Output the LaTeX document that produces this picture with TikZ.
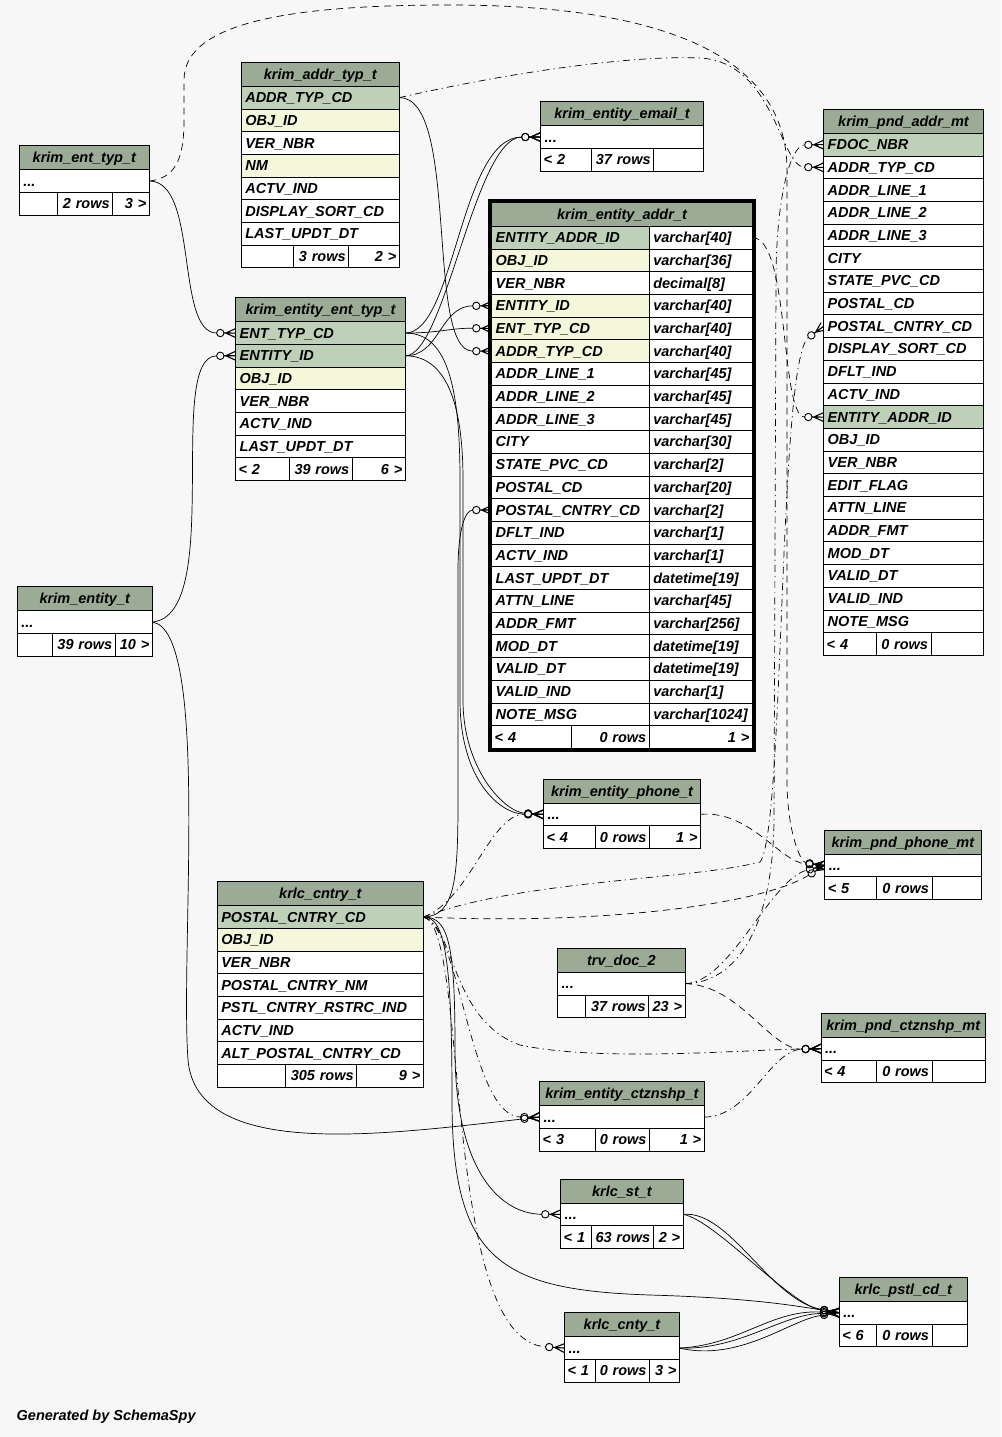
\documentclass[tikz,border=0pt]{standalone}
\usepackage{fontspec}
\setmainfont{Liberation Sans}
\usetikzlibrary{positioning,fit,backgrounds,arrows.meta}
\definecolor{hdcol}{HTML}{9BAB96}
\definecolor{pkcol}{HTML}{BED1B8}
\definecolor{ixcol}{HTML}{F4F7DA}
\definecolor{bgcol}{HTML}{F7F7F7}
\newcommand{\tblfont}{\fontsize{14.5pt}{17pt}\selectfont\bfseries\itshape}
% crow's foot with open circle (zero or many)
\pgfdeclarearrow{
  name=crow,
  setup code={
    \pgfarrowssettipend{0pt}
    \pgfarrowssetlineend{-19pt}
    \pgfarrowssetbackend{-19.5pt}
    \pgfarrowshullpoint{0pt}{4.5pt}
    \pgfarrowshullpoint{0pt}{-4.5pt}
    \pgfarrowshullpoint{-19.5pt}{4pt}
    \pgfarrowshullpoint{-19.5pt}{-4pt}
  },
  drawing code={
    \pgfsetdash{}{0pt}
    \pgfsetlinewidth{1.1pt}
    \pgfpathmoveto{\pgfqpoint{-11.8pt}{0pt}}
    \pgfpathlineto{\pgfqpoint{0pt}{0pt}}
    \pgfpathmoveto{\pgfqpoint{0pt}{4.5pt}}
    \pgfpathlineto{\pgfqpoint{-10pt}{0pt}}
    \pgfpathlineto{\pgfqpoint{0pt}{-4.5pt}}
    \pgfusepathqstroke
    \pgfsetlinewidth{0.9pt}
    \pgfpathcircle{\pgfqpoint{-15.4pt}{0pt}}{3.7pt}
    \pgfusepathqstroke
  }
}

\begin{document}
\begin{tikzpicture}[x=1pt,y=-1pt,
 tbl/.style={draw,line width=0.9pt,outer sep=0pt,inner xsep=4pt,inner ysep=0pt,minimum height=22.7pt,
   text height=13pt,text depth=3pt,anchor=north west,align=left,font=\tblfont},
 hd/.style={tbl,fill=hdcol,align=center,minimum height=24pt},
 cl/.style={tbl,fill=white},
 ft/.style={tbl,fill=white,inner xsep=3pt,align=right},
 fk/.style={-{crow},line width=0.7pt},
 imp/.style={fk,dash pattern=on 7pt off 5pt},
 imp2/.style={fk,dash pattern=on 7pt off 4pt on 1.2pt off 4pt}]
\useasboundingbox (0,0) rectangle (1001,1437);

% krim_ent_typ_t
\node[hd,text width=122pt] (enttyp-0) at (19.3,145.7) {krim\_ent\_typ\_t};
\node[cl,text width=122pt,below=0pt of enttyp-0.south west,anchor=north west] (enttyp-1) {...};
\node[ft,text width=32pt,below=0pt of enttyp-1.south west,anchor=north west] (enttyp-f1) {};
\node[ft,text width=49.4pt,right=0pt of enttyp-f1] (enttyp-f2) {2 rows};
\node[ft,text width=30.6pt,right=0pt of enttyp-f2] (enttyp-f3) {3 >};

% krim_addr_typ_t
\node[hd,text width=150pt] (addrtyp-0) at (241.3,62.3) {krim\_addr\_typ\_t};
\foreach \c/\f [count=\i,remember=\i as \j (initially 0)] in {ADDR\_TYP\_CD/pkcol,OBJ\_ID/ixcol,VER\_NBR/white,NM/ixcol,ACTV\_IND/white,DISPLAY\_SORT\_CD/white,LAST\_UPDT\_DT/white}
  \node[cl,fill=\f,text width=150pt,below=0pt of addrtyp-\j.south west,anchor=north west] (addrtyp-\i) {\c};
\node[ft,text width=46.4pt,below=0pt of addrtyp-7.south west,anchor=north west] (addrtyp-f1) {};
\node[ft,text width=49pt,right=0pt of addrtyp-f1] (addrtyp-f2) {3 rows};
\node[ft,text width=44.6pt,right=0pt of addrtyp-f2] (addrtyp-f3) {2 >};

% krim_entity_email_t
\node[hd,text width=154.6pt] (email-0) at (540.7,101.7) {krim\_entity\_email\_t};
\node[cl,text width=154.6pt,below=0pt of email-0.south west,anchor=north west] (email-1) {...};
\node[ft,align=left,text width=45pt,below=0pt of email-1.south west,anchor=north west] (email-f1) {< 2};
\node[ft,text width=56pt,right=0pt of email-f1] (email-f2) {37 rows};
\node[ft,text width=43.6pt,right=0pt of email-f2] (email-f3) {};

% krim_entity_addr_t
\node[hd,text width=252.6pt] (eaddr-0) at (491.7,202.3) {krim\_entity\_addr\_t};
\foreach \c/\f/\t [count=\i,remember=\i as \j (initially 0)] in {ENTITY\_ADDR\_ID/pkcol/varchar[40],OBJ\_ID/ixcol/varchar[36],VER\_NBR/white/decimal[8],ENTITY\_ID/ixcol/varchar[40],ENT\_TYP\_CD/ixcol/varchar[40],ADDR\_TYP\_CD/ixcol/varchar[40],ADDR\_LINE\_1/white/varchar[45],ADDR\_LINE\_2/white/varchar[45],ADDR\_LINE\_3/white/varchar[45],CITY/white/varchar[30],STATE\_PVC\_CD/white/varchar[2],POSTAL\_CD/white/varchar[20],POSTAL\_CNTRY\_CD/white/varchar[2],DFLT\_IND/white/varchar[1],ACTV\_IND/white/varchar[1],LAST\_UPDT\_DT/white/datetime[19],ATTN\_LINE/white/varchar[45],ADDR\_FMT/white/varchar[256],MOD\_DT/white/datetime[19],VALID\_DT/white/datetime[19],VALID\_IND/white/varchar[1],NOTE\_MSG/white/varchar[1024]}{
  \node[cl,fill=\f,text width=149.6pt,below=0pt of eaddr-\j.south west,anchor=north west] (eaddr-\i) {\c};
  \node[cl,text width=95pt,right=0pt of eaddr-\i] (eaddr-t\i) {\t};
}
\node[ft,align=left,text width=73.3pt,below=0pt of eaddr-22.south west,anchor=north west] (eaddr-f1) {< 4};
\node[ft,text width=72.3pt,right=0pt of eaddr-f1] (eaddr-f2) {0 rows};
\node[ft,text width=97pt,right=0pt of eaddr-f2] (eaddr-f3) {1 >};
\node[draw,line width=3.4pt,inner sep=1.7pt,fit=(eaddr-0)(eaddr-f3)] (eaddr-frame) {};

% krim_pnd_addr_mt
\node[hd,text width=151.6pt] (paddr-0) at (823.7,109.3) {krim\_pnd\_addr\_mt};
\foreach \c/\f [count=\i,remember=\i as \j (initially 0)] in {FDOC\_NBR/pkcol,ADDR\_TYP\_CD/white,ADDR\_LINE\_1/white,ADDR\_LINE\_2/white,ADDR\_LINE\_3/white,CITY/white,STATE\_PVC\_CD/white,POSTAL\_CD/white,POSTAL\_CNTRY\_CD/white,DISPLAY\_SORT\_CD/white,DFLT\_IND/white,ACTV\_IND/white,ENTITY\_ADDR\_ID/pkcol,OBJ\_ID/white,VER\_NBR/white,EDIT\_FLAG/white,ATTN\_LINE/white,ADDR\_FMT/white,MOD\_DT/white,VALID\_DT/white,VALID\_IND/white,NOTE\_MSG/white}
  \node[cl,fill=\f,text width=151.6pt,below=0pt of paddr-\j.south west,anchor=north west] (paddr-\i) {\c};
\node[ft,align=left,text width=46.3pt,below=0pt of paddr-22.south west,anchor=north west] (paddr-f1) {< 4};
\node[ft,text width=49pt,right=0pt of paddr-f1] (paddr-f2) {0 rows};
\node[ft,text width=46.3pt,right=0pt of paddr-f2] (paddr-f3) {};

% krim_entity_ent_typ_t
\node[hd,text width=161.6pt] (eet-0) at (235.7,297.7) {krim\_entity\_ent\_typ\_t};
\foreach \c/\f [count=\i,remember=\i as \j (initially 0)] in {ENT\_TYP\_CD/pkcol,ENTITY\_ID/pkcol,OBJ\_ID/ixcol,VER\_NBR/white,ACTV\_IND/white,LAST\_UPDT\_DT/white}
  \node[cl,fill=\f,text width=161.6pt,below=0pt of eet-\j.south west,anchor=north west] (eet-\i) {\c};
\node[ft,align=left,text width=47.6pt,below=0pt of eet-6.south west,anchor=north west] (eet-f1) {< 2};
\node[ft,text width=57pt,right=0pt of eet-f1] (eet-f2) {39 rows};
\node[ft,text width=47pt,right=0pt of eet-f2] (eet-f3) {6 >};

% krim_entity_t
\node[hd,text width=127pt] (ent-0) at (17.3,586.7) {krim\_entity\_t};
\node[cl,text width=127pt,below=0pt of ent-0.south west,anchor=north west] (ent-1) {...};
\node[ft,text width=29.4pt,below=0pt of ent-1.south west,anchor=north west] (ent-f1) {};
\node[ft,text width=56.6pt,right=0pt of ent-f1] (ent-f2) {39 rows};
\node[ft,text width=31pt,right=0pt of ent-f2] (ent-f3) {10 >};

% krim_entity_phone_t
\node[hd,text width=149pt] (phone-0) at (543.5,779) {krim\_entity\_phone\_t};
\node[cl,text width=149pt,below=0pt of phone-0.south west,anchor=north west] (phone-1) {...};
\node[ft,align=left,text width=46.1pt,below=0pt of phone-1.south west,anchor=north west] (phone-f1) {< 4};
\node[ft,text width=47.9pt,right=0pt of phone-f1] (phone-f2) {0 rows};
\node[ft,text width=45pt,right=0pt of phone-f2] (phone-f3) {1 >};

% krim_pnd_phone_mt
\node[hd,text width=148.2pt] (pphone-0) at (824.8,830) {krim\_pnd\_phone\_mt};
\node[cl,text width=148.2pt,below=0pt of pphone-0.south west,anchor=north west] (pphone-1) {...};
\node[ft,align=left,text width=45.7pt,below=0pt of pphone-1.south west,anchor=north west] (pphone-f1) {< 5};
\node[ft,text width=49.5pt,right=0pt of pphone-f1] (pphone-f2) {0 rows};
\node[ft,text width=43pt,right=0pt of pphone-f2] (pphone-f3) {};

% krlc_cntry_t
\node[hd,text width=198pt] (cntry-0) at (217.3,881.7) {krlc\_cntry\_t};
\foreach \c/\f [count=\i,remember=\i as \j (initially 0)] in {POSTAL\_CNTRY\_CD/pkcol,OBJ\_ID/ixcol,VER\_NBR/white,POSTAL\_CNTRY\_NM/white,PSTL\_CNTRY\_RSTRC\_IND/white,ACTV\_IND/white,ALT\_POSTAL\_CNTRY\_CD/white}
  \node[cl,fill=\f,text width=198pt,below=0pt of cntry-\j.south west,anchor=north west] (cntry-\i) {\c};
\node[ft,text width=62.4pt,below=0pt of cntry-7.south west,anchor=north west] (cntry-f1) {};
\node[ft,text width=65pt,right=0pt of cntry-f1] (cntry-f2) {305 rows};
\node[ft,text width=60.6pt,right=0pt of cntry-f2] (cntry-f3) {9 >};

% trv_doc_2
\node[hd,text width=119.3pt] (trv-0) at (557.7,948.3) {trv\_doc\_2};
\node[cl,text width=119.3pt,below=0pt of trv-0.south west,anchor=north west] (trv-1) {...};
\node[ft,text width=21.9pt,below=0pt of trv-1.south west,anchor=north west] (trv-f1) {};
\node[ft,text width=57.2pt,right=0pt of trv-f1] (trv-f2) {37 rows};
\node[ft,text width=30.2pt,right=0pt of trv-f2] (trv-f3) {23 >};

% krim_pnd_ctznshp_mt
\node[hd,text width=156.5pt] (pctz-0) at (821,1013.3) {krim\_pnd\_ctznshp\_mt};
\node[cl,text width=156.5pt,below=0pt of pctz-0.south west,anchor=north west] (pctz-1) {...};
\node[ft,align=left,text width=49.5pt,below=0pt of pctz-1.south west,anchor=north west] (pctz-f1) {< 4};
\node[ft,text width=49.5pt,right=0pt of pctz-f1] (pctz-f2) {0 rows};
\node[ft,text width=47.5pt,right=0pt of pctz-f2] (pctz-f3) {};

% krim_entity_ctznshp_t
\node[hd,text width=156.5pt] (ectz-0) at (539.7,1081.7) {krim\_entity\_ctznshp\_t};
\node[cl,text width=156.5pt,below=0pt of ectz-0.south west,anchor=north west] (ectz-1) {...};
\node[ft,align=left,text width=49.9pt,below=0pt of ectz-1.south west,anchor=north west] (ectz-f1) {< 3};
\node[ft,text width=47.9pt,right=0pt of ectz-f1] (ectz-f2) {0 rows};
\node[ft,text width=48.7pt,right=0pt of ectz-f2] (ectz-f3) {1 >};

% krlc_st_t
\node[hd,text width=114.5pt] (st-0) at (560.7,1179) {krlc\_st\_t};
\node[cl,text width=114.5pt,below=0pt of st-0.south west,anchor=north west] (st-1) {...};
\node[ft,align=left,text width=24.6pt,below=0pt of st-1.south west,anchor=north west] (st-f1) {< 1};
\node[ft,text width=56pt,right=0pt of st-f1] (st-f2) {63 rows};
\node[ft,text width=23.9pt,right=0pt of st-f2] (st-f3) {2 >};

% krlc_pstl_cd_t
\node[hd,text width=120pt] (pstl-0) at (839.3,1277.3) {krlc\_pstl\_cd\_t};
\node[cl,text width=120pt,below=0pt of pstl-0.south west,anchor=north west] (pstl-1) {...};
\node[ft,align=left,text width=31.2pt,below=0pt of pstl-1.south west,anchor=north west] (pstl-f1) {< 6};
\node[ft,text width=49.5pt,right=0pt of pstl-f1] (pstl-f2) {0 rows};
\node[ft,text width=29.3pt,right=0pt of pstl-f2] (pstl-f3) {};

% krlc_cnty_t
\node[hd,text width=106.8pt] (cnty-0) at (564.6,1312.7) {krlc\_cnty\_t};
\node[cl,text width=106.8pt,below=0pt of cnty-0.south west,anchor=north west] (cnty-1) {...};
\node[ft,align=left,text width=25pt,below=0pt of cnty-1.south west,anchor=north west] (cnty-f1) {< 1};
\node[ft,text width=47.9pt,right=0pt of cnty-f1] (cnty-f2) {0 rows};
\node[ft,text width=23.9pt,right=0pt of cnty-f2] (cnty-f3) {3 >};

\node[anchor=west,font=\tblfont,inner sep=0pt] (gen) at (16.5,1417) {Generated by SchemaSpy};

\begin{scope}[on background layer]
\fill[bgcol] (0,0) rectangle (1001,1437);
% foreign keys
\draw[fk] (enttyp-1.east) .. controls (199,181) and (175,333) .. (eet-1.west);
\draw[fk] (ent-1.east) .. controls (225,615) and (165,356) .. (eet-2.west);
\draw[fk] (ent-1.east) .. controls (210,630) and (180,950) .. (188,1060) .. controls (197,1160) and (380,1135) .. (ectz-1.west);
\draw[fk] (addrtyp-1.east) .. controls (460,97) and (425,351) .. (eaddr-6.west);
\draw[fk] (eet-1.east) .. controls (440,333) and (450,328) .. (eaddr-5.west);
\draw[fk] (eet-2.east) .. controls (440,356) and (440,306) .. (eaddr-4.west);
\draw[fk] (eet-1.east) .. controls (455,333) and (460,137) .. (email-1.west);
\draw[fk] (eet-2.east) .. controls (445,356) and (475,137) .. (email-1.west);
\draw[fk] (eet-1.east) .. controls (445,333) and (460,380) .. (460,480) -- (460,700) .. controls (460,780) and (500,814) .. (phone-1.west);
\draw[fk] (eet-2.east) .. controls (440,356) and (463,390) .. (463,480) -- (463,700) .. controls (463,770) and (505,812) .. (phone-1.west);
\draw[fk] (cntry-1.east) .. controls (455,916) and (458,880) .. (458,800) -- (458,570) .. controls (458,530) and (465,510) .. (eaddr-13.west);
\draw[fk] (cntry-1.east) .. controls (450,916) and (455,950) .. (455,1050) .. controls (455,1170) and (500,1214) .. (st-1.west);
\draw[fk] (cntry-1.east) .. controls (445,916) and (452,960) .. (452,1100) .. controls (452,1260) and (500,1290) .. (650,1295) .. controls (750,1298) and (790,1305) .. (pstl-1.west);
\draw[fk] (st-1.east) .. controls (730,1210) and (770,1300) .. (pstl-1.west);
\draw[fk] (st-1.east) .. controls (715,1220) and (790,1305) .. (pstl-1.west);
\draw[fk] (cnty-1.east) .. controls (740,1345) and (770,1310) .. (pstl-1.west);
\draw[fk] (cnty-1.east) .. controls (740,1350) and (780,1315) .. (pstl-1.west);
\draw[fk] (cnty-1.east) .. controls (740,1362) and (790,1320) .. (pstl-1.west);
% implied relationships
\draw[imp] (enttyp-1.east) .. controls (175,178) and (184,160) .. (184,120) -- (184,80) .. controls (184,20) and (300,5) .. (450,5) .. controls (650,5) and (787,50) .. (787,170) -- (787,780) .. controls (787,830) and (800,862) .. (pphone-1.west);
\draw[imp2] (addrtyp-1.east) .. controls (520,70) and (640,55) .. (700,58) .. controls (775,62) and (780,167) .. (paddr-2.west);
\draw[imp2] (trv-1.east) .. controls (735,983) and (773,930) .. (774,820) -- (776,280) .. controls (776,200) and (790,145) .. (paddr-1.west);
\draw[imp] (eaddr-t1.east) .. controls (790,237) and (780,417) .. (paddr-13.west);
\draw[imp2] (cntry-1.east) .. controls (520,880) and (690,880) .. (760,862) .. controls (785,830) and (778,360) .. (paddr-9.west);
\draw[imp2] (cntry-1.east) .. controls (470,900) and (490,814) .. (phone-1.west);
\draw[imp] (phone-1.east) .. controls (750,810) and (780,862) .. (pphone-1.west);
\draw[imp] (cntry-1.east) .. controls (600,925) and (760,905) .. (pphone-1.west);
\draw[imp2] (trv-1.east) .. controls (730,983) and (770,880) .. (pphone-1.west);
\draw[imp2] (cntry-1.east) .. controls (455,925) and (450,1020) .. (520,1045) .. controls (600,1062) and (740,1050) .. (pctz-1.west);
\draw[imp] (trv-1.east) .. controls (740,985) and (770,1050) .. (pctz-1.west);
\draw[imp2] (ectz-1.east) .. controls (750,1117) and (770,1050) .. (pctz-1.west);
\draw[imp2] (cntry-1.east) .. controls (460,925) and (470,1117) .. (ectz-1.west);
\draw[imp2] (cntry-1.east) .. controls (470,925) and (440,1340) .. (cnty-1.west);
\end{scope}
\end{tikzpicture}
\end{document}
